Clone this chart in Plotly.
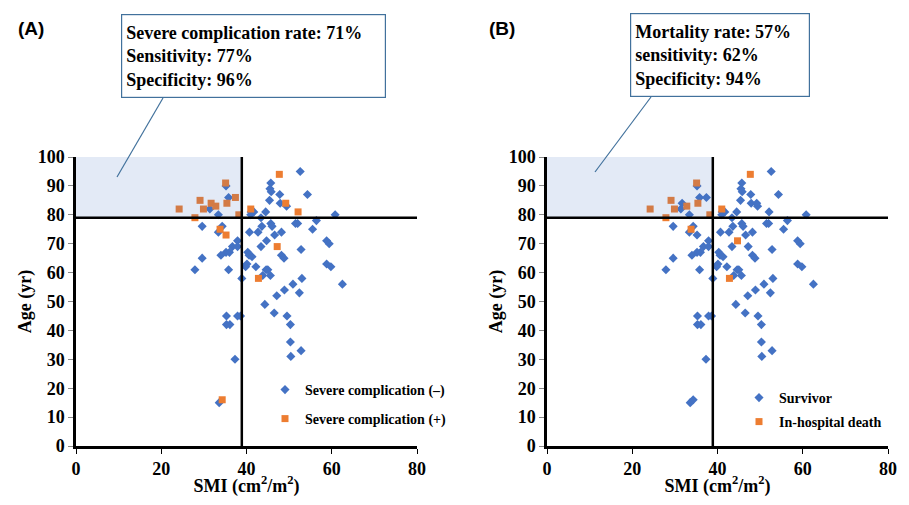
import plotly.graph_objects as go

# ---------------- data ----------------
smi = [52.6, 45.7, 45.5, 45.8, 47.8, 54.3, 35.8, 45.4, 47.9, 49.4,
       35.2, 31.4, 33.4, 41.1, 41.7, 44.5, 41.0, 43.4, 60.8, 29.6,
       34.3, 33.4, 45.7, 46.0, 43.6, 51.5, 52.0, 56.4, 55.5, 40.7,
       42.7, 48.2, 46.6, 37.9, 44.7, 58.8, 59.4, 36.7, 37.9, 43.4,
       35.2, 36.0, 34.0, 40.3, 40.6, 41.3, 48.2, 48.8, 52.8, 29.6,
       40.1, 39.8, 42.2, 58.8, 59.8, 27.9, 35.8, 44.6, 45.0, 43.8,
       45.6, 38.9, 53.0, 62.5, 50.9, 48.9, 52.4, 47.1, 44.3, 46.5,
       35.3, 37.9, 38.6, 49.5, 35.3, 36.1, 50.3, 50.3, 52.8, 50.4,
       37.3, 33.6,
       47.7, 35.1, 37.4, 29.1, 31.7, 32.8, 35.4, 49.2, 24.2, 29.9,
       41.0, 52.1, 38.2, 27.9, 33.8, 35.2, 47.2, 42.8, 34.3]
age = [95, 91, 89, 88, 87, 87, 86, 85, 84, 83,
       90, 82, 80, 81, 81, 81, 80, 79, 80, 76,
       76, 74, 77, 76, 76, 77, 77, 78, 75, 74,
       74, 74, 73, 71, 71, 71, 70, 69, 69, 69,
       67, 67, 66, 67, 66, 65.5, 66, 65, 68, 65,
       63, 62, 62, 63, 62, 61, 61, 61, 61, 59,
       59, 58, 58, 56, 56, 54, 53, 52, 49, 46,
       45, 45, 45, 45, 42, 42, 42, 36, 33, 31,
       30, 15,
       94, 91, 86, 85, 84, 83, 84, 84, 82, 82,
       82, 81, 80, 79, 75, 73, 69, 58, 16]
# 1 = severe complication (+)
severe_comp = [0] * 82 + [1] * 19
# 1 = in-hospital death
death = [0] * 34 + [1] + [0] * 47 + \
        [1, 1, 0, 1, 0, 1, 1, 0, 1, 1, 1, 0, 1, 1, 1, 0, 0, 1, 0]

smi_cutoff = 38.9
age_cutoff = 79

box_a = "Severe complication rate: 71%<br>Sensitivity: 77%<br>Specificity: 96%"
box_b = "Mortality rate: 57%<br>sensitivity: 62%<br>Specificity: 94%"
legend_a = ["Severe complication (\u2013)", "Severe complication (+)"]
legend_b = ["Survivor", "In-hospital death"]
x_ticks = [0, 20, 40, 60, 80]
y_ticks = [0, 10, 20, 30, 40, 50, 60, 70, 80, 90, 100]

# ---------------- figure ----------------
# the page body keeps its default 8px margin, so the figure is 16px smaller
OFF = 8
W, H = 909 - 2 * OFF, 505 - 2 * OFF
BLUE = "#4472C4"
ORANGE = "#ED7D31"
SERIF = "Liberation Serif"
SANS = "Liberation Sans"


def px(x):
    return (x - OFF) / W


def py(y):
    return 1 - (y - OFF) / H


fig = go.Figure()


def split(flags, val):
    xs = [s for s, f in zip(smi, flags) if f == val]
    ys = [a for a, f in zip(age, flags) if f == val]
    return xs, ys


for col, flags, names, lg in [(1, severe_comp, legend_a, ("legend", "legend2")),
                               (2, death, legend_b, ("legend3", "legend4"))]:
    xa = "x" if col == 1 else "x2"
    ya = "y" if col == 1 else "y2"
    xs, ys = split(flags, 0)
    fig.add_trace(go.Scatter(x=xs, y=ys, mode="markers", name="<b>%s</b>" % names[0],
                             marker=dict(symbol="diamond", size=7, color=BLUE),
                             xaxis=xa, yaxis=ya, legend=lg[0]))
    xs, ys = split(flags, 1)
    fig.add_trace(go.Scatter(x=xs, y=ys, mode="markers", name="<b>%s</b>" % names[1],
                             marker=dict(symbol="square", size=7, color=ORANGE),
                             xaxis=xa, yaxis=ya, legend=lg[1]))

ydom = [py(446), py(157)]
axis_common = dict(
    showgrid=False, zeroline=False, showline=True, linecolor="black",
    linewidth=2.5, ticks="outside", ticklen=5, tickwidth=1,
    tickfont=dict(family=SERIF, size=18, color="black"),
    automargin=False,
)
title_font = dict(family=SERIF, size=18, color="black")

layout = dict(
    width=W, height=H, margin=dict(l=0, r=0, t=0, b=0),
    paper_bgcolor="white", plot_bgcolor="white", showlegend=True,
)
for i, (x0, x1) in enumerate([(76, 417), (547, 888)]):
    sfx = "" if i == 0 else "2"
    layout["xaxis" + sfx] = dict(
        axis_common, domain=[px(x0), px(x1)], range=[0, 80],
        tickvals=x_ticks, ticktext=["<b>%d</b>" % v for v in x_ticks],
        tickcolor="black", anchor="y" + sfx,
        title=dict(text="<b>SMI (cm<sup>2</sup>/m<sup>2</sup>)</b>", font=title_font, standoff=9),
    )
    layout["yaxis" + sfx] = dict(
        axis_common, domain=ydom, range=[0, 100],
        tickvals=y_ticks, ticktext=["<b>%d</b>" % v for v in y_ticks],
        tickcolor="#888888", anchor="x" + sfx,
        title=dict(text="<b>Age (yr)</b>", font=title_font, standoff=2),
    )

leg_font = dict(family=SERIF, size=14, color="black")
leg_pos = {"legend": (265, 390), "legend2": (265, 419),
           "legend3": (739, 398), "legend4": (739, 422)}
for k, (lx, ly) in leg_pos.items():
    layout[k] = dict(x=px(lx), y=py(ly), xanchor="left", yanchor="middle",
                     font=leg_font, bgcolor="rgba(0,0,0,0)", itemwidth=30,
                     borderwidth=0)
fig.update_layout(**layout)

# shaded region, cutoff lines
for sfx in ["", "2"]:
    xr, yr = "x" + sfx, "y" + sfx
    fig.add_shape(type="rect", xref=xr, yref=yr, x0=0, x1=smi_cutoff,
                  y0=age_cutoff, y1=100, layer="above",
                  fillcolor="rgba(68,114,196,0.15)", line=dict(width=0))
    fig.add_shape(type="line", xref=xr, yref=yr, x0=smi_cutoff, x1=smi_cutoff,
                  y0=0, y1=100, layer="above", line=dict(color="black", width=2.5))
    fig.add_shape(type="line", xref=xr, yref=yr, x0=0, x1=80,
                  y0=age_cutoff, y1=age_cutoff, layer="above",
                  line=dict(color="black", width=2.5))

# callout boxes
BOX = "#41719C"
for text, (bx0, by0, bx1, by1), (lx0, ly0, lx1, ly1) in [
    (box_a, (121, 14, 386, 98), (163, 98, 117, 177)),
    (box_b, (630, 13, 810, 97), (651, 97, 595, 172)),
]:
    fig.add_shape(type="line", xref="paper", yref="paper",
                  x0=px(lx0), y0=py(ly0), x1=px(lx1), y1=py(ly1),
                  line=dict(color=BOX, width=1.2))
    fig.add_annotation(
        xref="paper", yref="paper", x=px(bx0), y=py(by0),
        xanchor="left", yanchor="top", showarrow=False, align="left",
        valign="middle", text="<b>%s</b>" % text.replace("<br>", "</b><br><b>"),
        width=bx1 - bx0 - 10, height=by1 - by0 - 10,
        borderpad=4, bordercolor=BOX, borderwidth=1.2, bgcolor="white",
        font=dict(family=SERIF, size=18, color="black"),
    )

for label, lx in [("(A)", 16), ("(B)", 487)]:
    fig.add_annotation(xref="paper", yref="paper", x=px(lx), y=py(28),
                       xanchor="left", yanchor="middle", showarrow=False,
                       text="<b>%s</b>" % label,
                       font=dict(family=SANS, size=19, color="black"))

fig.write_html("out.html")
